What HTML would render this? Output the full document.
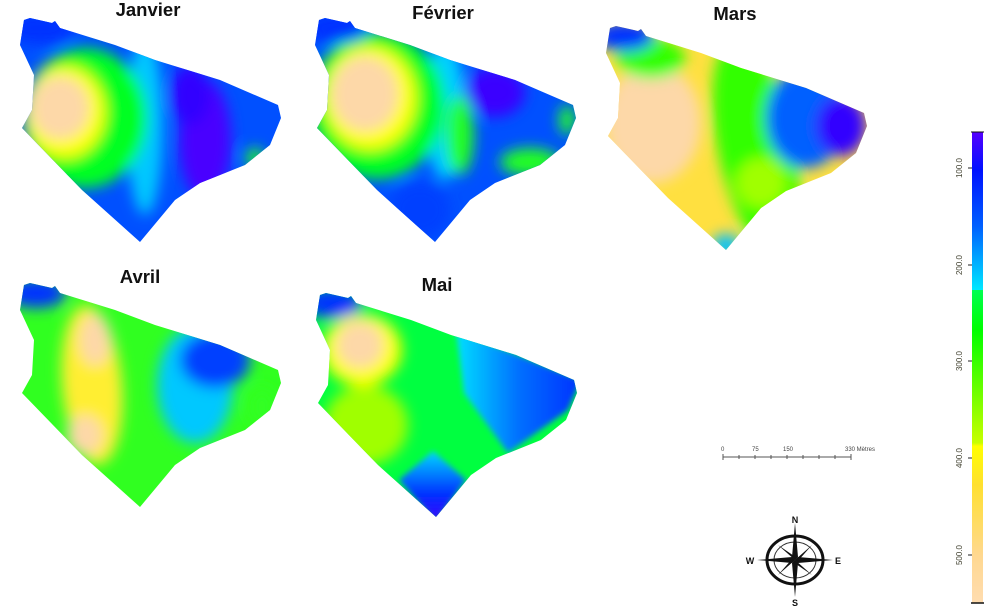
<!DOCTYPE html>
<html><head><meta charset="utf-8"><style>
html,body{margin:0;padding:0;background:#fff;}
svg{display:block;}
.t{font-family:"Liberation Sans",Arial,sans-serif;font-weight:bold;font-size:18.5px;fill:#111;text-anchor:middle;}
.s{font-family:"Liberation Sans",Arial,sans-serif;font-size:6px;fill:#444;}
.c{font-family:"Liberation Sans",Arial,sans-serif;font-weight:bold;font-size:9px;fill:#111;text-anchor:middle;}
</style></head><body>
<svg width="998" height="609" viewBox="0 0 998 609" xmlns="http://www.w3.org/2000/svg">
<defs>
<clipPath id="shape"><path d="M24,20 L30,18 L52,23 L55,21 L60,28 L115,45 L155,60 L220,80 L278,105 L281,118 L270,145 L245,165 L200,183 L175,200 L140,242 L82,190 L22,128 L32,110 L34,75 L20,45 Z"/></clipPath>
<filter id="bl" x="-30%" y="-30%" width="160%" height="160%"><feGaussianBlur stdDeviation="7"/></filter>
<filter id="bs" x="-30%" y="-30%" width="160%" height="160%"><feGaussianBlur stdDeviation="3"/></filter>
<linearGradient id="mai-east" x1="0" y1="0" x2="1" y2="0"><stop offset="0" stop-color="#00e0ff"/><stop offset="0.5" stop-color="#0070ff"/><stop offset="1" stop-color="#0030ff"/></linearGradient>
<linearGradient id="mai-south" x1="0" y1="0" x2="0" y2="1"><stop offset="0" stop-color="#00d8ff"/><stop offset="0.6" stop-color="#0030ff"/><stop offset="1" stop-color="#4000ff"/></linearGradient>
<linearGradient id="legend-grad" x1="0" y1="0" x2="0" y2="1">
<stop offset="0" stop-color="#5500ff"/><stop offset="0.08" stop-color="#0010ff"/><stop offset="0.2" stop-color="#0060ff"/><stop offset="0.335" stop-color="#00e8ff"/>
<stop offset="0.336" stop-color="#00ff50"/><stop offset="0.42" stop-color="#00ff00"/><stop offset="0.66" stop-color="#c8ff00"/>
<stop offset="0.667" stop-color="#ffff00"/><stop offset="0.75" stop-color="#ffe030"/><stop offset="0.9" stop-color="#ffd890"/><stop offset="1" stop-color="#ffdcb0"/>
</linearGradient>
</defs>

<g>
<g clip-path="url(#shape)"><rect x="0" y="0" width="300" height="260" fill="#0050ff"/>
<g filter="url(#bl)">
<ellipse cx="145" cy="125" rx="18" ry="90" fill="#00c8ff"/>
<ellipse cx="205" cy="140" rx="26" ry="60" fill="#4a00ff"/>
<ellipse cx="190" cy="95" rx="20" ry="30" fill="#3000ff"/>
<ellipse cx="255" cy="158" rx="9" ry="10" fill="#20ff20"/>
<ellipse cx="85" cy="118" rx="62" ry="70" fill="#00ff20"/>
<ellipse cx="40" cy="28" rx="34" ry="16" fill="#0030ff"/>
<ellipse cx="65" cy="112" rx="40" ry="46" fill="#ffff00"/>
<ellipse cx="60" cy="108" rx="30" ry="32" fill="#fdd8a8"/>
</g></g>
<text class="t" x="148" y="16">Janvier</text>
</g>

<g transform="translate(295,0)">
<g clip-path="url(#shape)"><rect x="0" y="0" width="300" height="260" fill="#0050ff"/>
<g filter="url(#bl)">
<ellipse cx="150" cy="110" rx="20" ry="70" fill="#00d0ff"/>
<ellipse cx="200" cy="92" rx="30" ry="25" fill="#3a00ff"/>
<ellipse cx="165" cy="135" rx="14" ry="40" fill="#20ff20"/>
<ellipse cx="235" cy="162" rx="30" ry="14" fill="#20ff20"/>
<ellipse cx="272" cy="120" rx="8" ry="15" fill="#20ff20"/>
<ellipse cx="125" cy="210" rx="30" ry="28" fill="#0040ff"/>
<ellipse cx="82" cy="105" rx="68" ry="74" fill="#00ff20"/>
<ellipse cx="42" cy="28" rx="32" ry="15" fill="#0030ff"/>
<ellipse cx="75" cy="98" rx="46" ry="52" fill="#ffff00"/>
<ellipse cx="70" cy="94" rx="34" ry="38" fill="#fdd8a8"/>
</g></g>
<text class="t" x="148" y="19">Février</text>
</g>

<g transform="translate(586,8)">
<g clip-path="url(#shape)"><rect x="0" y="0" width="300" height="260" fill="#ffe040"/>
<g filter="url(#bl)">
<ellipse cx="67" cy="115" rx="48" ry="60" fill="#fdd8a8"/>
<ellipse cx="170" cy="140" rx="38" ry="110" fill="#30ff00" transform="rotate(-12 170 140)"/>
<ellipse cx="175" cy="175" rx="25" ry="25" fill="#a0ff00"/>
<ellipse cx="220" cy="110" rx="40" ry="50" fill="#0060ff"/>
<ellipse cx="255" cy="118" rx="25" ry="30" fill="#3000ff"/>
<ellipse cx="140" cy="238" rx="14" ry="12" fill="#00c0ff"/>
<ellipse cx="65" cy="50" rx="34" ry="20" fill="#30ff00"/>
<ellipse cx="38" cy="28" rx="30" ry="15" fill="#0030ff"/>
</g></g>
<text class="t" x="149" y="12">Mars</text>
</g>

<g transform="translate(0,265)">
<g clip-path="url(#shape)"><rect x="0" y="0" width="300" height="260" fill="#30ff20"/>
<g filter="url(#bl)">
<ellipse cx="92" cy="120" rx="30" ry="80" fill="#ffee30" transform="rotate(-5 92 120)"/>
<ellipse cx="95" cy="75" rx="16" ry="26" fill="#fdd8a8"/>
<ellipse cx="85" cy="170" rx="18" ry="20" fill="#fdd8a8"/>
<ellipse cx="195" cy="120" rx="38" ry="58" fill="#00c8ff"/>
<ellipse cx="215" cy="95" rx="35" ry="28" fill="#0040ff"/>
<ellipse cx="262" cy="142" rx="14" ry="20" fill="#30ff20"/>
<ellipse cx="36" cy="28" rx="30" ry="15" fill="#0030ff"/>
</g></g>
<text class="t" x="140" y="18">Avril</text>
</g>

<g transform="translate(296,275)">
<g clip-path="url(#shape)"><rect x="0" y="0" width="300" height="260" fill="#00ff40"/>
<g filter="url(#bl)">
<ellipse cx="70" cy="150" rx="42" ry="40" fill="#a0ff00"/>
<ellipse cx="66" cy="75" rx="40" ry="36" fill="#ffff00"/>
<ellipse cx="64" cy="70" rx="24" ry="24" fill="#fdd8a8"/>
<ellipse cx="36" cy="28" rx="30" ry="15" fill="#0030ff"/>
</g>
<g filter="url(#bs)">
<path d="M160,55 L285,105 L272,135 L212,178 L168,118 Z" fill="url(#mai-east)"/>
<path d="M103,205 L137,176 L170,205 L140,248 Z" fill="url(#mai-south)"/>
</g></g>
<text class="t" x="141" y="16">Mai</text>
</g>

<g>
<line x1="723" y1="457" x2="851" y2="457" stroke="#555" stroke-width="1"/>
<g stroke="#555" stroke-width="1">
<line x1="723" y1="454" x2="723" y2="460"/><line x1="739" y1="455" x2="739" y2="459"/><line x1="755" y1="455" x2="755" y2="459"/><line x1="771" y1="455" x2="771" y2="459"/><line x1="787" y1="455" x2="787" y2="459"/><line x1="803" y1="455" x2="803" y2="459"/><line x1="819" y1="455" x2="819" y2="459"/><line x1="835" y1="455" x2="835" y2="459"/><line x1="851" y1="454" x2="851" y2="460"/>
</g>
<text class="s" x="721" y="451">0</text><text class="s" x="752" y="451">75</text><text class="s" x="783" y="451">150</text><text class="s" x="845" y="451">330 Mètres</text>
</g>

<g transform="translate(795,560)">
<ellipse cx="0" cy="0" rx="28" ry="24" fill="none" stroke="#111" stroke-width="3"/>
<ellipse cx="0" cy="0" rx="21" ry="18" fill="none" stroke="#333" stroke-width="1"/>
<polygon points="0,-37 3,-3 0,0 -3,-3" fill="#111"/>
<polygon points="0,37 3,3 0,0 -3,3" fill="#111"/>
<polygon points="-38,0 -3,-3 0,0 -3,3" fill="#111"/>
<polygon points="38,0 3,-3 0,0 3,3" fill="#111"/>
<polygon points="-17,-15 2,-2 0,0" fill="#111"/><polygon points="17,-15 2,2 0,0" fill="#111"/>
<polygon points="-17,15 -2,-2 0,0" fill="#111"/><polygon points="17,15 -2,2 0,0" fill="#111"/>
<text class="c" x="0" y="-37">N</text><text class="c" x="0" y="46">S</text>
<text class="c" x="-45" y="4">W</text><text class="c" x="43" y="4">E</text>
</g>

<g>
<rect x="972" y="132" width="11" height="471" fill="url(#legend-grad)"/>
<line x1="971" y1="132" x2="984" y2="132" stroke="#111" stroke-width="1"/>
<line x1="971" y1="603" x2="984" y2="603" stroke="#111" stroke-width="1.5"/>
<g id="legend-ticks"></g>
</g>
</svg>
<script>
const legendLabels = ["100.0","200.0","300.0","400.0","500.0"];
const legendTickY = [168,265,361,458,555];
const g = document.getElementById('legend-ticks');
const NS = 'http://www.w3.org/2000/svg';
legendLabels.forEach((lab, i) => {
  const y = legendTickY[i];
  const ln = document.createElementNS(NS, 'line');
  ln.setAttribute('x1', 968); ln.setAttribute('x2', 972);
  ln.setAttribute('y1', y); ln.setAttribute('y2', y);
  ln.setAttribute('stroke', '#222');
  
  
  g.appendChild(ln);
  const t = document.createElementNS(NS, 'text');
  t.setAttribute('x', 962); t.setAttribute('y', y);
  t.setAttribute('transform', 'rotate(-90 962 ' + y + ')');
  t.setAttribute('text-anchor', 'middle');
  t.setAttribute('font-family', 'Liberation Sans, Arial, sans-serif');
  t.setAttribute('font-size', '8');
  t.setAttribute('fill', '#443');
  t.textContent = lab;
  
  
  g.appendChild(t);
});
</script>
</body></html>
